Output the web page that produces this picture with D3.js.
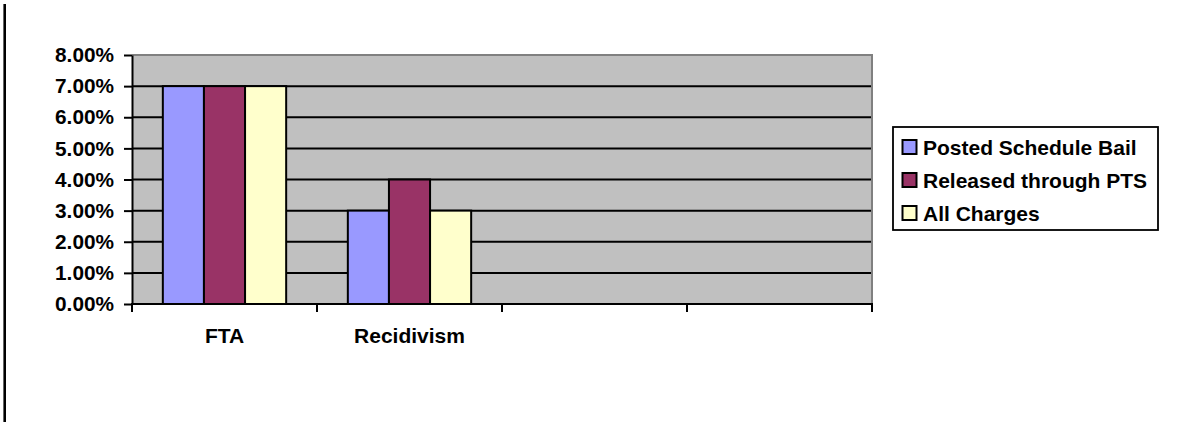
<!DOCTYPE html>
<html>
<head>
<meta charset="utf-8">
<script src="https://cdn.jsdelivr.net/npm/d3@7"></script>
<style>
  html, body { margin: 0; padding: 0; background: #fff; }
  svg { display: block; font-family: "Liberation Sans", Arial, sans-serif; font-weight: bold; }
</style>
</head>
<body>
<svg id="chart" width="1183" height="422"></svg>
<script>
// Chart data
const categories = ["FTA", "Recidivism", "", ""];
const seriesNames = ["Posted Schedule Bail", "Released through PTS", "All Charges"];
const postedScheduleBail = [7, 3, null, null];
const releasedThroughPTS = [7, 4, null, null];
const allCharges = [7, 3, null, null];
const yTicks = [0, 1, 2, 3, 4, 5, 6, 7, 8];
const seriesColors = ["#9999FF", "#993366", "#FFFFCC"];

const seriesValues = [postedScheduleBail, releasedThroughPTS, allCharges];

const svg = d3.select("#chart");

// Outer frame edge on the left
svg.append("line")
  .attr("x1", 4.7).attr("x2", 4.7)
  .attr("y1", 4).attr("y2", 422)
  .attr("stroke", "#000").attr("stroke-width", 2.6);

const plot = { left: 132, right: 872, top: 55, bottom: 304 };

const x0 = d3.scaleBand()
  .domain(d3.range(categories.length))
  .range([plot.left, plot.right])
  .padding(0);

const bw = x0.bandwidth();
const barW = bw / 4.5;          // three bars plus a 150% gap
const x1 = d3.scaleBand()
  .domain(d3.range(seriesNames.length))
  .range([barW * 0.75, barW * 3.75])
  .padding(0);

const y = d3.scaleLinear()
  .domain([0, 8])
  .range([plot.bottom, plot.top]);

// Plot background
svg.append("rect")
  .attr("x", plot.left).attr("y", plot.top)
  .attr("width", plot.right - plot.left)
  .attr("height", plot.bottom - plot.top)
  .attr("fill", "#C0C0C0");

// Plot border (top and right)
svg.append("path")
  .attr("d", `M${plot.left},${plot.top} H${plot.right} V${plot.bottom}`)
  .attr("fill", "none")
  .attr("stroke", "#808080")
  .attr("stroke-width", 2);

// Horizontal gridlines
svg.append("g")
  .selectAll("line")
  .data(yTicks.filter(t => t > 0 && t < 8))
  .join("line")
  .attr("x1", plot.left).attr("x2", plot.right - 1)
  .attr("y1", d => y(d)).attr("y2", d => y(d))
  .attr("stroke", "#000").attr("stroke-width", 2);

// Bars
const groups = svg.append("g")
  .selectAll("g")
  .data(categories.map((c, i) => i))
  .join("g")
  .attr("transform", i => `translate(${x0(i)},0)`);

groups.selectAll("rect")
  .data(i => seriesValues.map((vals, s) => ({ s, v: vals[i] })).filter(d => d.v != null))
  .join("rect")
  .attr("x", d => x1(d.s))
  .attr("y", d => y(d.v))
  .attr("width", x1.bandwidth())
  .attr("height", d => y(0) - y(d.v))
  .attr("fill", d => seriesColors[d.s])
  .attr("stroke", "#000")
  .attr("stroke-width", 2);

// Y axis
const yAxis = svg.append("g")
  .attr("transform", `translate(${plot.left},0)`)
  .call(d3.axisLeft(y)
    .tickValues(yTicks)
    .tickFormat(d => d.toFixed(2) + "%")
    .tickSize(8)
    .tickSizeOuter(0)
    .tickPadding(10));
yAxis.select(".domain").attr("stroke", "#000").attr("stroke-width", 2);
yAxis.selectAll(".tick line").attr("stroke", "#000").attr("stroke-width", 2);
yAxis.selectAll(".tick text")
  .attr("fill", "#000")
  .style("font-size", "20.8px")
  .style("font-weight", "bold")
  .style("font-family", "'Liberation Sans', Arial, sans-serif");

// X axis
const xAxis = svg.append("g")
  .attr("transform", `translate(0,${plot.bottom})`)
  .call(d3.axisBottom(x0)
    .tickFormat(i => categories[i])
    .tickSize(0)
    .tickPadding(24));
xAxis.select(".domain").remove();
xAxis.append("line")
  .attr("x1", plot.left - 1).attr("x2", plot.right + 1)
  .attr("y1", 0).attr("y2", 0)
  .attr("stroke", "#000").attr("stroke-width", 2);
xAxis.selectAll(".tick text")
  .attr("fill", "#000")
  .style("font-size", "21px")
  .style("font-weight", "bold")
  .style("font-family", "'Liberation Sans', Arial, sans-serif");

// Category boundary tick marks
xAxis.append("g")
  .selectAll("line")
  .data(d3.range(categories.length + 1))
  .join("line")
  .attr("x1", i => plot.left + i * bw)
  .attr("x2", i => plot.left + i * bw)
  .attr("y1", 0).attr("y2", 8)
  .attr("stroke", "#000").attr("stroke-width", 2);

// Legend
const legend = svg.append("g").attr("transform", "translate(893,127)");
legend.append("rect")
  .attr("x", 0).attr("y", 0)
  .attr("width", 265).attr("height", 103)
  .attr("fill", "#fff")
  .attr("stroke", "#000").attr("stroke-width", 1.8);

const items = legend.selectAll("g.item")
  .data(seriesNames)
  .join("g")
  .attr("class", "item")
  .attr("transform", (d, i) => `translate(0,${20 + i * 33})`);

items.append("rect")
  .attr("x", 9.5).attr("y", -7)
  .attr("width", 14).attr("height", 14)
  .attr("fill", (d, i) => seriesColors[i])
  .attr("stroke", "#000").attr("stroke-width", 2);

items.append("text")
  .attr("x", 30)
  .attr("y", 0)
  .attr("dy", "0.36em")
  .attr("fill", "#000")
  .style("font-size", "21px")
  .text(d => d);
</script>
</body>
</html>
